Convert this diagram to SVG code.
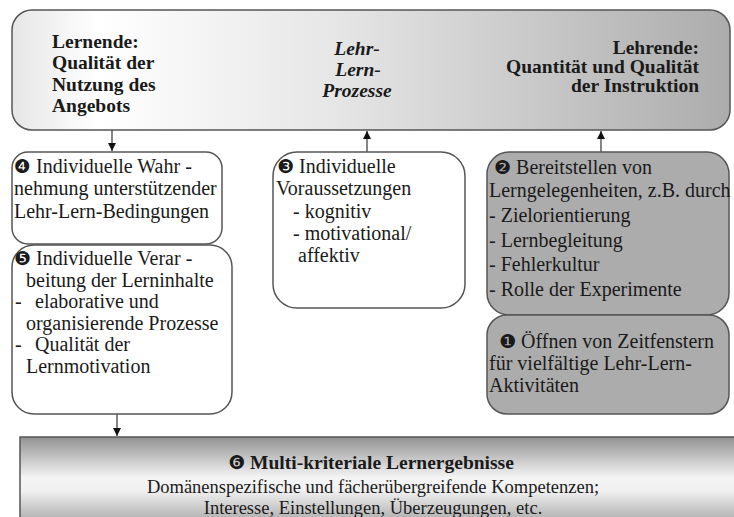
<svg xmlns="http://www.w3.org/2000/svg" width="734" height="517" viewBox="0 0 734 517">
<defs>
<linearGradient id="gTop" x1="0" y1="0" x2="1" y2="0">
<stop offset="0" stop-color="#e6e6e6"/>
<stop offset="0.12" stop-color="#ffffff"/>
<stop offset="0.45" stop-color="#e6e6e6"/>
<stop offset="1" stop-color="#acacac"/>
</linearGradient>
<linearGradient id="gBot" x1="0" y1="0" x2="0" y2="1">
<stop offset="0" stop-color="#929292"/>
<stop offset="0.45" stop-color="#f4f4f4"/>
<stop offset="0.6" stop-color="#f0f0f0"/>
<stop offset="1" stop-color="#a0a0a0"/>
</linearGradient>
<marker id="ah" viewBox="0 0 10 10" refX="10" refY="5" markerWidth="8" markerHeight="8" markerUnits="userSpaceOnUse" orient="auto">
<path d="M0,0 L10,5 L0,10 z" fill="#111"/>
</marker>
</defs>
<style>
.box{stroke:#555;stroke-width:1.5}
.w{fill:#fff}
.g{fill:#acacac}
text{font-family:"Liberation Serif","Times New Roman",serif;fill:#1a1a1a}
.h{font-size:19.5px;font-weight:bold}
.t{font-size:20px}
.b{font-size:18.5px}
.n{font-family:"DejaVu Sans",sans-serif;font-size:19px;font-weight:normal}
.c{stroke:#333;stroke-width:1.2;fill:none}
</style>
<rect width="734" height="517" fill="#fff"/>
<g id="connectors">
<line class="c" x1="112" y1="130" x2="112" y2="151" marker-end="url(#ah)"/>
<line class="c" x1="367" y1="152" x2="367" y2="131" marker-end="url(#ah)"/>
<line class="c" x1="601" y1="152" x2="601" y2="131" marker-end="url(#ah)"/>
<line class="c" x1="117" y1="414" x2="117" y2="436" marker-end="url(#ah)"/>
</g>
<g id="top">
<rect class="box" x="12" y="10" width="718" height="120" rx="20" fill="url(#gTop)"/>
<text class="h" x="52" y="48">Lernende:</text>
<text class="h" x="52" y="69">Qualität der</text>
<text class="h" x="52" y="91">Nutzung des</text>
<text class="h" x="52" y="112">Angebots</text>
<text class="h" font-style="italic" text-anchor="middle" x="357" y="55">Lehr-</text>
<text class="h" font-style="italic" text-anchor="middle" x="358" y="76">Lern-</text>
<text class="h" font-style="italic" text-anchor="middle" x="357" y="97">Prozesse</text>
<text class="h" text-anchor="end" x="699" y="54">Lehrende:</text>
<text class="h" text-anchor="end" x="699" y="73">Quantität und Qualität</text>
<text class="h" text-anchor="end" x="699" y="92">der Instruktion</text>
</g>
<g id="n4">
<rect class="box w" x="12" y="152" width="210" height="92" rx="16"/>
<text class="t" x="14" y="173"><tspan class="n">❹</tspan> Individuelle Wahr -</text>
<text class="t" x="14" y="195">nehmung unterstützender</text>
<text class="t" x="14" y="218">Lehr-Lern-Bedingungen</text>
</g>
<g id="n5">
<rect class="box w" x="12" y="245" width="220" height="169" rx="22"/>
<text class="t" x="14" y="265"><tspan class="n">❺</tspan> Individuelle Verar -</text>
<text class="t" x="26" y="287">beitung der Lerninhalte</text>
<text class="t" x="15" y="308">-</text>
<text class="t" x="35" y="308">elaborative und</text>
<text class="t" x="26" y="330">organisierende Prozesse</text>
<text class="t" x="15" y="351">-</text>
<text class="t" x="35" y="351">Qualität der</text>
<text class="t" x="26" y="373">Lernmotivation</text>
</g>
<g id="n3">
<rect class="box w" x="273" y="152" width="192" height="156" rx="24"/>
<text class="t" x="277" y="173"><tspan class="n">❸</tspan> Individuelle</text>
<text class="t" x="276" y="195">Voraussetzungen</text>
<text class="t" x="293" y="218">- kognitiv</text>
<text class="t" x="293" y="240">- motivational/</text>
<text class="t" x="298" y="262">affektiv</text>
</g>
<g id="n2">
<rect class="box g" x="487" y="152" width="242" height="163" rx="22"/>
<text class="t" x="494" y="174"><tspan class="n">❷</tspan> Bereitstellen von</text>
<text class="t" x="489" y="197">Lerngelegenheiten, z.B. durch</text>
<text class="t" x="489" y="222">- Zielorientierung</text>
<text class="t" x="489" y="247">- Lernbegleitung</text>
<text class="t" x="489" y="271">- Fehlerkultur</text>
<text class="t" x="489" y="296">- Rolle der Experimente</text>
</g>
<g id="n1">
<rect class="box g" x="487" y="315" width="242" height="99" rx="20"/>
<text class="t" x="499" y="348"><tspan class="n">❶</tspan> Öffnen von Zeitfenstern</text>
<text class="t" x="489" y="370">für vielfältige Lehr-Lern-</text>
<text class="t" x="489" y="392">Aktivitäten</text>
</g>
<g id="n6">
<rect class="box" x="20" y="437" width="720" height="90" fill="url(#gBot)"/>
<text class="h" text-anchor="middle" x="371" y="469"><tspan class="n">❻</tspan> Multi-kriteriale Lernergebnisse</text>
<text class="b" text-anchor="middle" x="373" y="493">Domänenspezifische und fächerübergreifende Kompetenzen;</text>
<text class="b" text-anchor="middle" x="373" y="514">Interesse, Einstellungen, Überzeugungen, etc.</text>
</g>
</svg>
